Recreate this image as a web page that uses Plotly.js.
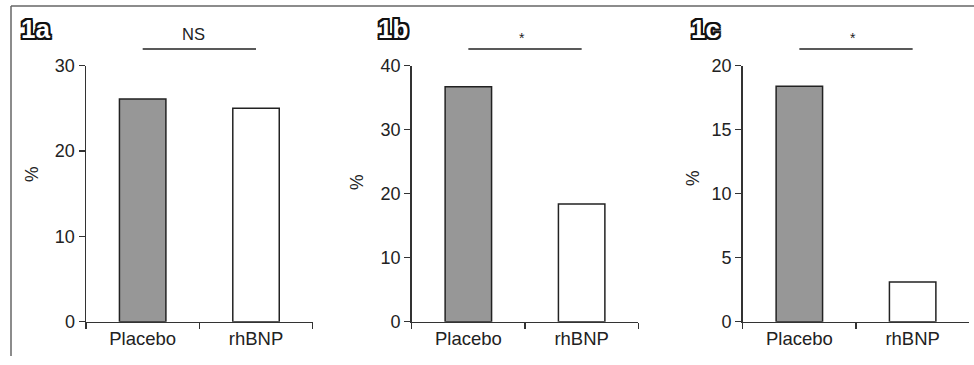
<!DOCTYPE html>
<html>
<head>
<meta charset="utf-8">
<script src="https://cdn.plot.ly/plotly-3.0.1.min.js"></script>
<style>html,body{margin:0;padding:0;background:#fff;}#chart{width:974px;height:365px;}</style>
</head>
<body>
<div id="chart"></div>
<script>
const categories = ['Placebo', 'rhBNP'];
const panelLabels = ['1a', '1b', '1c'];
const values1a = [26.1, 25.0];
const values1b = [36.7, 18.4];
const values1c = [18.4, 3.1];
const yMax = [30, 40, 20];
const yTickStep = [10, 10, 5];
const significance = ['NS', '*', '*'];
const yTitle = '%';

const W = 974, H = 365;
const px = v => v / W;
const py = v => 1 - v / H;

const allValues = [values1a, values1b, values1c];
const xDomains = [[86, 312.7], [411.7, 638.3], [742.7, 969.3]];
const yDomain = [py(321.7), py(65.7)];
const labelPos = [[35, 29], [393, 29], [705, 29]];
const pctPos = [[32, 174], [357, 182], [693, 178]];
const sigX = [0.45, 0.47, 0.47];

const ink = '#222';
const fontFam = 'Liberation Sans, Arial, sans-serif';
const o = '2px', c = '#111';
const outline = [
  `-${o} -${o} 0 ${c}`, `${o} -${o} 0 ${c}`, `-${o} ${o} 0 ${c}`, `${o} ${o} 0 ${c}`,
  `0 ${o} 0 ${c}`, `0 -${o} 0 ${c}`, `${o} 0 0 ${c}`, `-${o} 0 0 ${c}`
].join(', ');

const traces = [];
const layout = {
  width: W, height: H,
  margin: {l: 0, r: 0, t: 0, b: 0},
  paper_bgcolor: '#fff', plot_bgcolor: 'rgba(0,0,0,0)',
  showlegend: false,
  font: {family: fontFam, color: ink, size: 18},
  shapes: [], annotations: []
};

allValues.forEach((vals, i) => {
  const n = i === 0 ? '' : String(i + 1);
  traces.push({
    type: 'bar', x: categories, y: vals,
    xaxis: 'x' + n, yaxis: 'y' + n,
    width: 0.41,
    marker: {color: ['#979797', '#ffffff'], line: {color: ink, width: 1.5}},
    hoverinfo: 'skip'
  });
  layout['xaxis' + n] = {
    domain: xDomains[i].map(px), anchor: 'y' + n,
    type: 'category', range: [-0.5, 1.5],
    showline: true, linecolor: '#333', linewidth: 1.5,
    ticks: 'outside', tickson: 'boundaries', ticklen: 6, tickwidth: 1.5, tickcolor: '#333',
    showgrid: false, zeroline: false, fixedrange: true,
    tickfont: {size: 18.5, color: ink, family: fontFam}
  };
  layout['yaxis' + n] = {
    domain: yDomain, anchor: 'x' + n,
    range: [0, yMax[i]], dtick: yTickStep[i], tick0: 0,
    showline: true, linecolor: '#333', linewidth: 1.5,
    ticks: 'outside', ticklen: 6, tickwidth: 1.5, tickcolor: '#333',
    showgrid: false, zeroline: false, fixedrange: true,
    tickfont: {size: 18, color: ink, family: fontFam}
  };
  layout.shapes.push({
    type: 'line', xref: 'x' + n, yref: 'paper',
    x0: 0, x1: 1, y0: py(49), y1: py(49),
    line: {color: ink, width: 1.3}
  });
  layout.annotations.push({
    text: significance[i], xref: 'x' + n, yref: 'paper',
    x: sigX[i], y: py(i === 0 ? 34 : 38), showarrow: false,
    xanchor: 'center', yanchor: 'middle',
    font: {size: i === 0 ? 16.5 : 14, color: ink, family: fontFam}
  });
  layout.annotations.push({
    text: '<b>' + panelLabels[i] + '</b>', xref: 'paper', yref: 'paper',
    x: px(labelPos[i][0]), y: py(labelPos[i][1]), showarrow: false,
    xanchor: 'center', yanchor: 'middle',
    font: {size: 26, color: '#ffffff', family: fontFam, shadow: outline}
  });
  layout.annotations.push({
    text: yTitle, xref: 'paper', yref: 'paper',
    x: px(pctPos[i][0]), y: py(pctPos[i][1]), showarrow: false,
    textangle: -90, xanchor: 'center', yanchor: 'middle',
    font: {size: 17.5, color: ink, family: fontFam}
  });
});

layout.shapes.push({type: 'line', xref: 'paper', yref: 'paper', x0: px(11), x1: 1, y0: py(6), y1: py(6), line: {color: '#666', width: 1.5}});
layout.shapes.push({type: 'line', xref: 'paper', yref: 'paper', x0: px(11), x1: px(11), y0: py(6), y1: py(356), line: {color: '#666', width: 1.5}});

Plotly.newPlot('chart', traces, layout, {displayModeBar: false, staticPlot: true});
</script>
</body>
</html>
